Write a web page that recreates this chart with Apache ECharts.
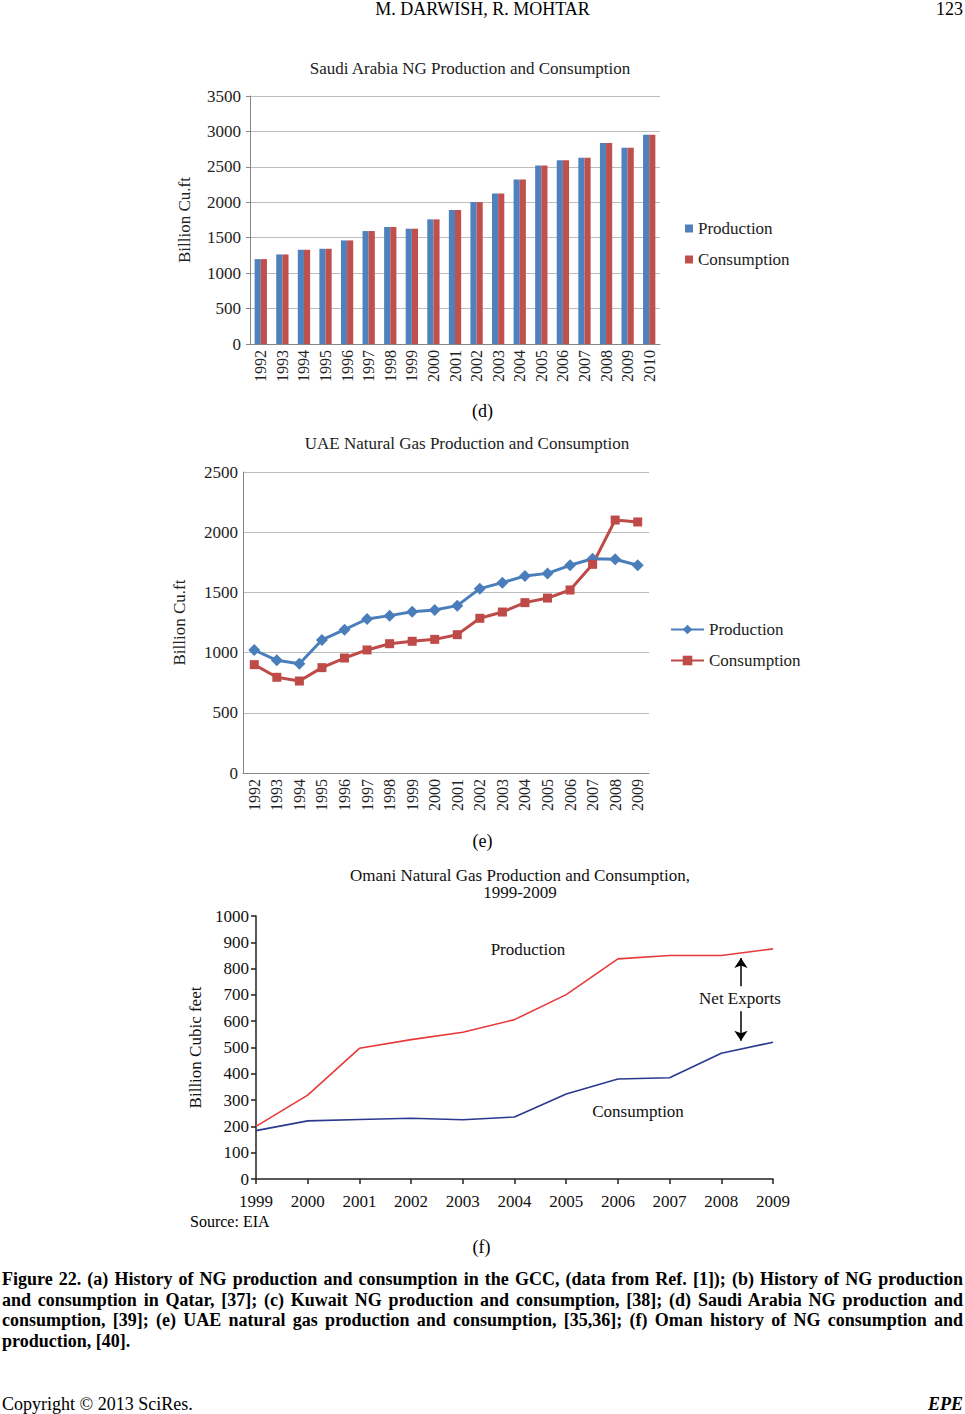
<!DOCTYPE html>
<html>
<head>
<meta charset="utf-8">
<script src="https://cdn.jsdelivr.net/npm/echarts@6/dist/echarts.min.js"></script>
<style>
html,body{margin:0;padding:0;background:#fff;}
#page{position:relative;width:965px;height:1414px;overflow:hidden;font-family:"Liberation Serif","Times New Roman",serif;color:#000;}
#chart{position:absolute;left:0;top:0;width:965px;height:1414px;}
.t{position:absolute;white-space:nowrap;font-size:18px;line-height:18px;}
.capl{position:absolute;left:2px;white-space:nowrap;font-weight:bold;font-size:18px;line-height:20px;}
</style>
</head>
<body>
<div id="page">
  <div id="chart"></div>
  <div class="t" style="left:0;width:965px;text-align:center;top:0px;">M. DARWISH, R. MOHTAR</div>
  <div class="t" style="right:2px;top:0px;">123</div>
  <div class="t" style="left:0;width:965px;text-align:center;top:402px;">(d)</div>
  <div class="t" style="left:0;width:965px;text-align:center;top:832px;">(e)</div>
  <div class="t" style="left:190px;top:1213px;font-size:16px;">Source: EIA</div>
  <div class="t" style="left:0;width:963px;text-align:center;top:1238px;">(f)</div>
  <div id="cap"></div>
  <div class="t" style="left:2px;top:1395px;">Copyright © 2013 SciRes.</div>
  <div class="t" style="right:2px;top:1395px;font-weight:bold;font-style:italic;">EPE</div>
</div>
<script>
// ---------- data ----------
const saudiYears = ['1992','1993','1994','1995','1996','1997','1998','1999','2000','2001','2002','2003','2004','2005','2006','2007','2008','2009','2010'];
const saudiProduction  = [1198,1264,1330,1344,1462,1594,1651,1627,1759,1891,2005,2123,2321,2519,2594,2627,2835,2769,2953];
const saudiConsumption = [1198,1264,1330,1344,1462,1594,1651,1627,1759,1891,2005,2123,2321,2519,2594,2627,2835,2769,2953];

const uaeYears = ['1992','1993','1994','1995','1996','1997','1998','1999','2000','2001','2002','2003','2004','2005','2006','2007','2008','2009'];
const uaeProduction  = [1021,936,908,1105,1190,1279,1307,1340,1354,1390,1531,1581,1636,1658,1725,1780,1775,1725];
const uaeConsumption = [900,795,764,875,955,1022,1074,1094,1110,1149,1285,1337,1415,1453,1520,1733,2101,2085];

const omanYears = [1999,2000,2001,2002,2003,2004,2005,2006,2007,2008,2009];
const omanProduction  = [200,319,497,530,558,606,701,837,850,850,875];
const omanConsumption = [184,221,226,231,225,236,323,380,385,478,520];

const captionLines = [
  'Figure 22. (a) History of NG production and consumption in the GCC, (data from Ref. [1]); (b) History of NG production',
  'and consumption in Qatar, [37]; (c) Kuwait NG production and consumption, [38]; (d) Saudi Arabia NG production and',
  'consumption, [39]; (e) UAE natural gas production and consumption, [35,36]; (f) Oman history of NG consumption and',
  'production, [40].'
];

// ---------- caption (justified) ----------
(function(){
  const cap = document.getElementById('cap');
  const spans = [];
  captionLines.forEach((t,i)=>{
    const d = document.createElement('div');
    d.className = 'capl';
    d.style.top = (1269 + i*20.7) + 'px';
    const s = document.createElement('span');
    s.textContent = t;
    d.appendChild(s);
    cap.appendChild(d);
    spans.push(s);
  });
  let maxW = 0;
  spans.slice(0,3).forEach(s=>{ maxW = Math.max(maxW, s.getBoundingClientRect().width); });
  if (maxW > 961) {
    const fs = 18*961/maxW*0.995;
    spans.forEach(s=>{ s.parentNode.style.fontSize = fs+'px'; });
  }
  spans.slice(0,3).forEach((s,i)=>{
    const w = s.getBoundingClientRect().width;
    const n = (captionLines[i].match(/ /g)||[]).length;
    s.style.wordSpacing = ((961 - w)/n) + 'px';
  });
})();

// ---------- chart ----------
const FONT = 'Liberation Serif';
const TXT = '#222';
const AX = '#868686';
const GRID = '#bdbdbd';
const plain = v => String(v);

const chart = echarts.init(document.getElementById('chart'), null, {renderer:'svg', width:965, height:1414});

function gtext(x, y, text, size, color){
  return {type:'text', x:x, y:y, silent:true,
    style:{text:text, fontSize:size, fontFamily:FONT, fill:color||TXT,
      align:'center', verticalAlign:'middle', textAlign:'center', textVerticalAlign:'middle'}};
}

const catAxisCommon = {
  type:'category', boundaryGap:true,
  axisLine:{show:true, lineStyle:{color:AX, width:1}},
  axisTick:{show:false},
  axisLabel:{rotate:90, margin:6, fontSize:16, color:TXT, fontFamily:FONT, interval:0},
  splitLine:{show:false}
};
const valAxisCommon = {
  type:'value', min:0,
  axisLine:{show:true, lineStyle:{color:AX, width:1}},
  axisTick:{show:true, length:4, lineStyle:{color:AX}},
  axisLabel:{fontSize:17, color:TXT, fontFamily:FONT, formatter:plain},
  splitLine:{show:true, lineStyle:{color:GRID, width:1}},
  nameLocation:'middle',
  nameTextStyle:{fontSize:17, color:TXT, fontFamily:FONT}
};

const option = {
  animation:false,
  backgroundColor:'transparent',
  textStyle:{fontFamily:FONT},
  graphic:[
    gtext(470, 68, 'Saudi Arabia NG Production and Consumption', 17),
    gtext(467, 443, 'UAE Natural Gas Production and Consumption', 17),
    gtext(520, 875, 'Omani Natural Gas Production and Consumption,', 17, '#111'),
    gtext(520, 892, '1999-2009', 17, '#111')
  ],
  grid:[
    {left:250, top:96, width:410, height:248},
    {left:243, top:472, width:406, height:301},
    {left:256, top:916, width:517, height:263}
  ],
  legend:[
    {orient:'vertical', left:680, top:215, itemWidth:8, itemHeight:8, itemGap:14, icon:'rect',
     data:['Production','Consumption'], textStyle:{fontSize:17, color:TXT, fontFamily:FONT}, selectedMode:false},
    {orient:'vertical', left:665, top:616, itemWidth:33, itemHeight:12, itemGap:14,
     data:['Production ','Consumption '], textStyle:{fontSize:17, color:TXT, fontFamily:FONT}, selectedMode:false}
  ],
  xAxis:[
    Object.assign({}, catAxisCommon, {gridIndex:0, data:saudiYears}),
    Object.assign({}, catAxisCommon, {gridIndex:1, data:uaeYears}),
    {gridIndex:2, type:'value', min:1999, max:2009, interval:1,
     axisLine:{show:true, lineStyle:{color:'#222', width:1.5}},
     axisTick:{show:true, length:5, lineStyle:{color:'#222', width:1.5}},
     axisLabel:{margin:14, fontSize:17, color:'#111', fontFamily:FONT, formatter:plain, showMaxLabel:true, showMinLabel:true},
     splitLine:{show:false}}
  ],
  yAxis:[
    Object.assign({}, valAxisCommon, {gridIndex:0, max:3500, interval:500, name:'Billion Cu.ft', nameGap:57,
      axisLabel:Object.assign({}, valAxisCommon.axisLabel, {margin:9})}),
    Object.assign({}, valAxisCommon, {gridIndex:1, max:2500, interval:500, name:'Billion Cu.ft', nameGap:55,
      axisLine:{show:true, lineStyle:{color:AX}}, axisTick:{show:false},
      axisLabel:Object.assign({}, valAxisCommon.axisLabel, {margin:5})}),
    {gridIndex:2, type:'value', min:0, max:1000, interval:100, name:'Billion Cubic feet', nameLocation:'middle', nameGap:50,
     nameTextStyle:{fontSize:17, color:'#111', fontFamily:FONT},
     axisLine:{show:true, lineStyle:{color:'#222', width:1.5}},
     axisTick:{show:true, length:5, lineStyle:{color:'#222', width:1.5}},
     axisLabel:{margin:7, fontSize:17, color:'#111', fontFamily:FONT, formatter:plain},
     splitLine:{show:false}}
  ],
  series:[
    {name:'Production', type:'bar', xAxisIndex:0, yAxisIndex:0, data:saudiProduction,
     barGap:'0%', barCategoryGap:'43%', itemStyle:{color:'#4f81bd'}, silent:true},
    {name:'Consumption', type:'bar', xAxisIndex:0, yAxisIndex:0, data:saudiConsumption,
     barGap:'0%', barCategoryGap:'43%', itemStyle:{color:'#c0504d'}, silent:true},

    {name:'Production ', type:'line', xAxisIndex:1, yAxisIndex:1, data:uaeProduction,
     symbol:'diamond', symbolSize:12, showAllSymbol:true,
     itemStyle:{color:'#4a7ebb'}, lineStyle:{color:'#4a7ebb', width:3}, silent:true},
    {name:'Consumption ', type:'line', xAxisIndex:1, yAxisIndex:1, data:uaeConsumption,
     symbol:'rect', symbolSize:9, showAllSymbol:true,
     itemStyle:{color:'#be4b48'}, lineStyle:{color:'#be4b48', width:3}, silent:true},

    {name:'Oman Production', type:'line', xAxisIndex:2, yAxisIndex:2,
     data:omanYears.map((y,i)=>[y, omanProduction[i]]),
     symbol:'none', lineStyle:{color:'#e8393a', width:1.6}, itemStyle:{color:'#e8393a'}, silent:true,
     markLine:{silent:true, symbol:['none','arrow'], symbolSize:10, label:{show:false},
       lineStyle:{color:'#000', width:1.5, type:'solid'}, emphasis:{disabled:true},
       data:[
         [{coord:[2008.38,733]},{coord:[2008.38,840]}],
         [{coord:[2008.38,638]},{coord:[2008.38,526]}]
       ]}},
    {name:'Oman Consumption', type:'line', xAxisIndex:2, yAxisIndex:2,
     data:omanYears.map((y,i)=>[y, omanConsumption[i]]),
     symbol:'none', lineStyle:{color:'#2b3990', width:1.6}, itemStyle:{color:'#2b3990'}, silent:true,
     markPoint:{silent:true, symbol:'circle', symbolSize:0,
       label:{show:true, position:'inside', formatter:'{b}', fontSize:17, color:'#111', fontFamily:FONT},
       data:[
         {name:'Production', coord:[2004.26,874]},
         {name:'Consumption', coord:[2006.39,255]},
         {name:'Net Exports', coord:[2008.36,688]}
       ]}}
  ]
};
chart.setOption(option);
</script>
</body>
</html>
